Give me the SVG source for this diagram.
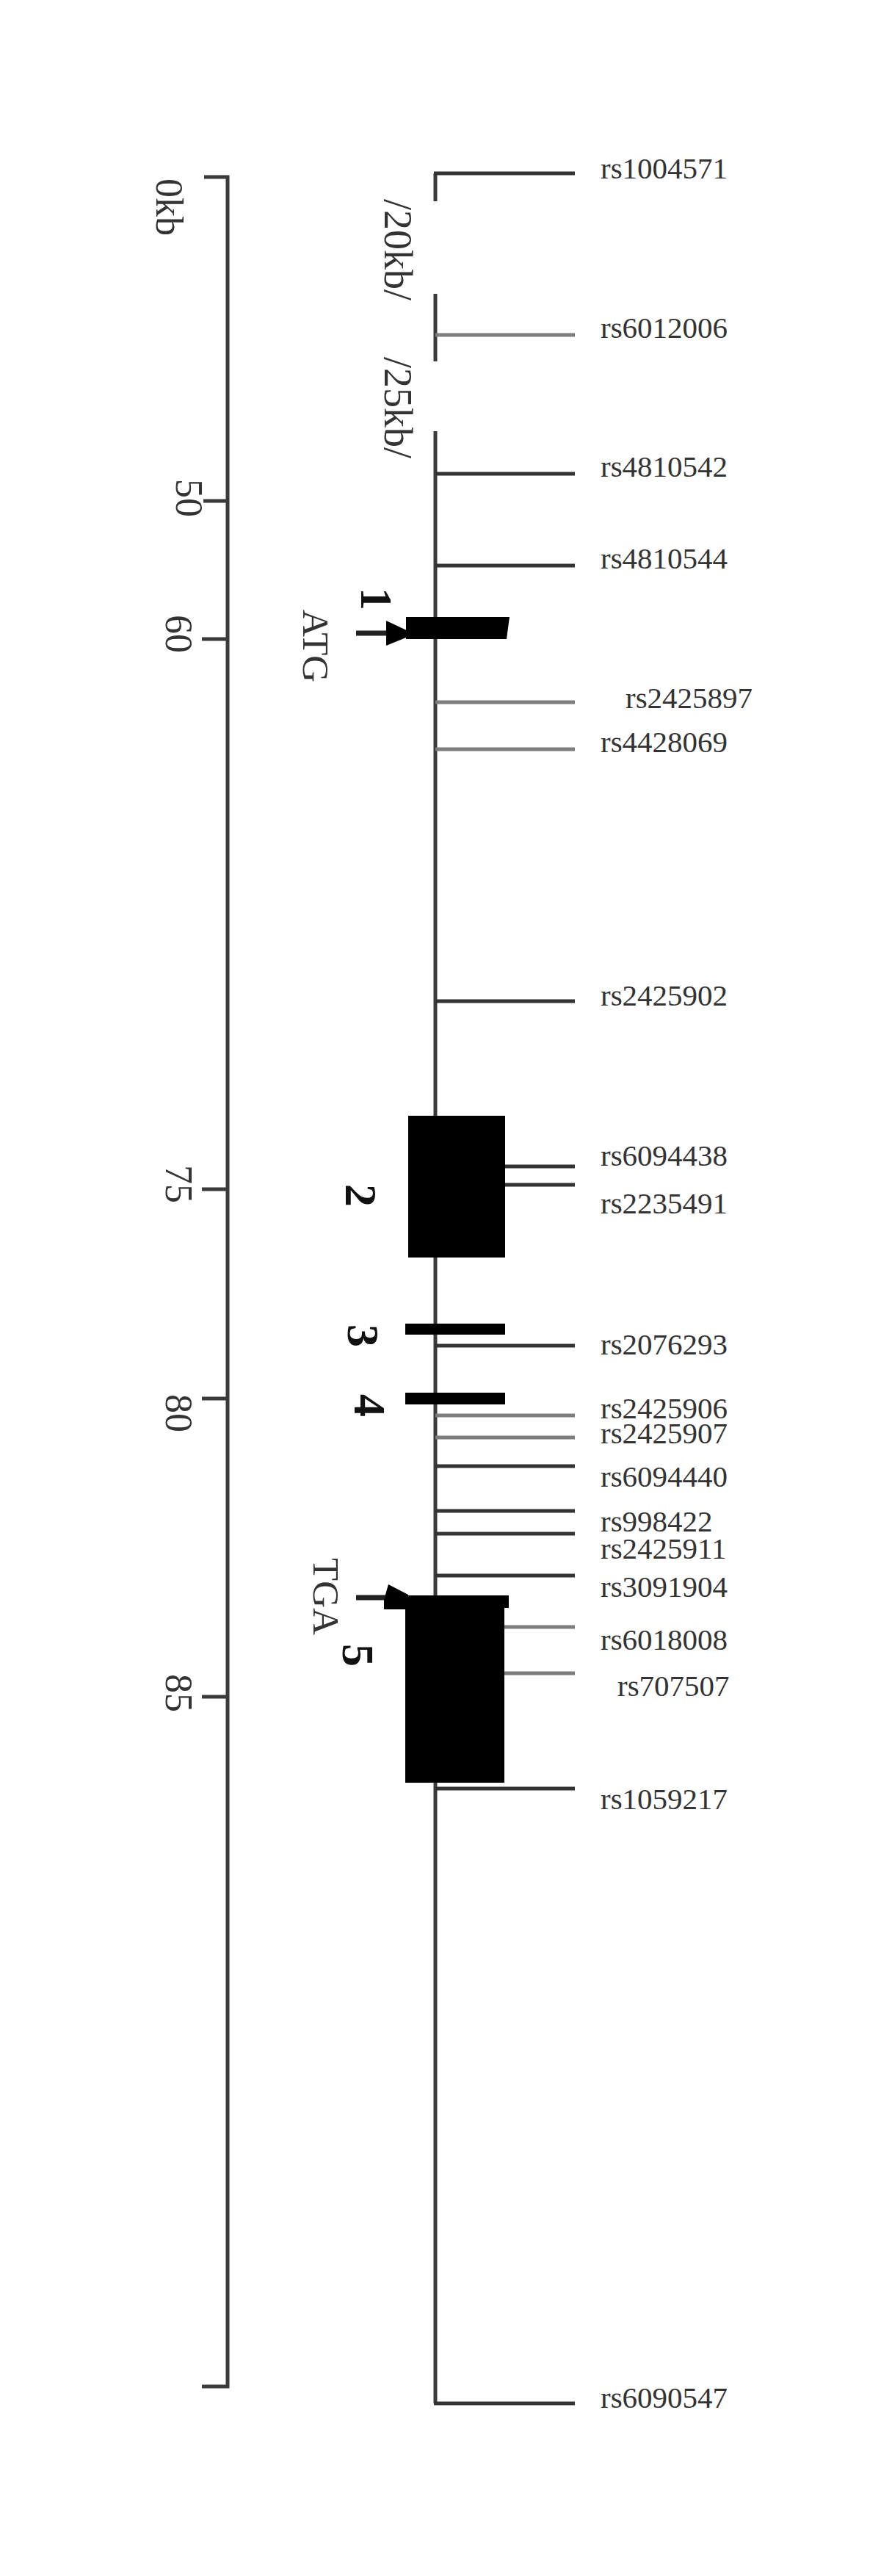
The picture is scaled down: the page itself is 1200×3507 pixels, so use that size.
<svg xmlns="http://www.w3.org/2000/svg" width="1200" height="3507" viewBox="0 0 1200 3507">
<style>
.ax{stroke:#3a3a3a;stroke-width:5;fill:none}
.dk{stroke:#333;stroke-width:5}
.lt{stroke:#7d7d7d;stroke-width:5}
.lbl{font-family:"Liberation Serif","Times New Roman",serif;font-size:41px;fill:#333}
.sc{font-family:"Liberation Serif","Times New Roman",serif;font-size:52px;fill:#333}
.it{font-family:"Liberation Serif","Times New Roman",serif;font-size:54px;fill:#333}
.ex{font-family:"Liberation Serif","Times New Roman",serif;font-size:62px;font-weight:bold;fill:#111}
.cd{font-family:"Liberation Serif","Times New Roman",serif;font-size:51px;fill:#333}
.blk{fill:#000}
</style>
<rect width="1200" height="3507" fill="#fff"/>

<g id="scale">
  <path class="ax" d="M278,241 H310 V3249 H275"/>
  <path class="ax" d="M277,682 H310 M275,870 H310 M275,1619 H310 M275,1904 H310 M275,2310 H310"/>
  <text class="sc" transform="translate(213,243) rotate(90)">0kb</text>
  <text class="sc" transform="translate(240,652) rotate(90)">50</text>
  <text class="sc" transform="translate(226,837) rotate(90)">60</text>
  <text class="sc" transform="translate(226,1586) rotate(90)">75</text>
  <text class="sc" transform="translate(226,1898) rotate(90)">80</text>
  <text class="sc" transform="translate(226,2279) rotate(90)">85</text>
</g>

<g id="connectors">
  <path class="ax" d="M593,236 V274 M593,400 V492 M593,587 V3272"/>
  <text class="it" transform="translate(524,271) rotate(90)">/20kb/</text>
  <text class="it" transform="translate(524,486) rotate(90)">/25kb/</text>
  <g id="snp-lines">
    <line class="dk" x1="591" y1="236" x2="783" y2="236"/>
    <line class="lt" x1="593" y1="456" x2="783" y2="456"/>
    <line class="dk" x1="593" y1="645" x2="783" y2="645"/>
    <line class="dk" x1="593" y1="770" x2="783" y2="770"/>
    <line class="lt" x1="593" y1="956" x2="783" y2="956"/>
    <line class="lt" x1="593" y1="1020" x2="783" y2="1020"/>
    <line class="dk" x1="593" y1="1363" x2="783" y2="1363"/>
    <line class="dk" x1="688" y1="1588" x2="783" y2="1588"/>
    <line class="dk" x1="688" y1="1613" x2="783" y2="1613"/>
    <line class="dk" x1="593" y1="1832" x2="783" y2="1832"/>
    <line class="lt" x1="593" y1="1927" x2="783" y2="1927"/>
    <line class="lt" x1="593" y1="1957" x2="783" y2="1957"/>
    <line class="dk" x1="593" y1="1996" x2="783" y2="1996"/>
    <line class="dk" x1="593" y1="2057" x2="783" y2="2057"/>
    <line class="dk" x1="593" y1="2088" x2="783" y2="2088"/>
    <line class="dk" x1="593" y1="2145" x2="783" y2="2145"/>
    <line class="lt" x1="686" y1="2215" x2="783" y2="2215"/>
    <line class="lt" x1="686" y1="2278" x2="783" y2="2278"/>
    <line class="dk" x1="593" y1="2435" x2="783" y2="2435"/>
    <line class="dk" x1="591" y1="3272" x2="783" y2="3272"/>
  </g>
</g>

<g id="exon1">
  <line x1="485" y1="862" x2="530" y2="862" stroke="#222" stroke-width="7"/>
  <polygon class="blk" points="526,845 558,860 558,866 526,879"/>
  <polygon class="blk" points="553,840 694,840 690,870 553,870"/>
  <text class="ex" transform="translate(492,800) rotate(90)">1</text>
  <text class="cd" transform="translate(413,830) rotate(90)">ATG</text>
</g>

<g id="exon2">
  <rect class="blk" x="556" y="1519" width="132" height="193"/>
  <text class="ex" transform="translate(471,1612) rotate(90)">2</text>
</g>

<g id="exon3">
  <rect class="blk" x="552" y="1802" width="136" height="15"/>
  <text class="ex" transform="translate(474,1803) rotate(90)">3</text>
</g>

<g id="exon4">
  <rect class="blk" x="552" y="1896" width="136" height="16"/>
  <text class="ex" transform="translate(483,1898) rotate(90)">4</text>
</g>

<g id="exon5">
  <line x1="485" y1="2175" x2="530" y2="2175" stroke="#222" stroke-width="7"/>
  <polygon class="blk" points="529,2157 556,2171 556,2191 523,2191 523,2178"/>
  <rect class="blk" x="552" y="2172" width="141" height="17"/>
  <rect class="blk" x="552" y="2172" width="135" height="255"/>
  <text class="ex" transform="translate(467,2238) rotate(90)">5</text>
  <text class="cd" transform="translate(427,2121) rotate(90)">TGA</text>
</g>

<g id="snp-labels">
  <text class="lbl" x="818" y="243">rs1004571</text>
  <text class="lbl" x="818" y="460">rs6012006</text>
  <text class="lbl" x="818" y="649">rs4810542</text>
  <text class="lbl" x="818" y="774">rs4810544</text>
  <text class="lbl" x="852" y="964">rs2425897</text>
  <text class="lbl" x="818" y="1024">rs4428069</text>
  <text class="lbl" x="818" y="1369">rs2425902</text>
  <text class="lbl" x="818" y="1587">rs6094438</text>
  <text class="lbl" x="818" y="1652">rs2235491</text>
  <text class="lbl" x="818" y="1844">rs2076293</text>
  <text class="lbl" x="818" y="1931">rs2425906</text>
  <text class="lbl" x="818" y="1965">rs2425907</text>
  <text class="lbl" x="818" y="2024">rs6094440</text>
  <text class="lbl" x="818" y="2085">rs998422</text>
  <text class="lbl" x="818" y="2122">rs2425911</text>
  <text class="lbl" x="818" y="2174">rs3091904</text>
  <text class="lbl" x="818" y="2246">rs6018008</text>
  <text class="lbl" x="841" y="2309">rs707507</text>
  <text class="lbl" x="818" y="2463">rs1059217</text>
  <text class="lbl" x="818" y="3278">rs6090547</text>
</g>
</svg>
